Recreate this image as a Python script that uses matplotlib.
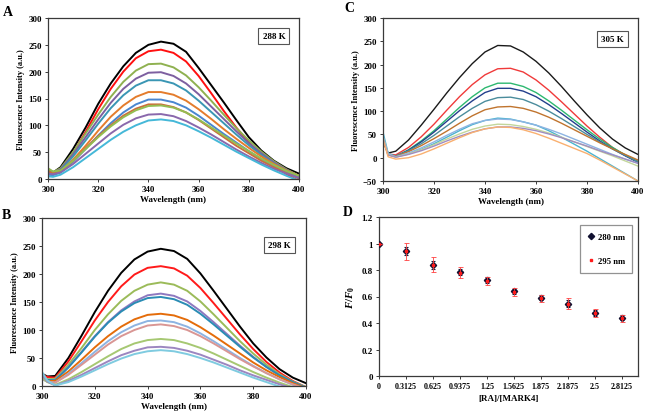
import matplotlib
matplotlib.use("Agg")
import matplotlib.pyplot as plt
from matplotlib.lines import Line2D

plt.rcParams['font.family'] = ['Liberation Serif', 'DejaVu Serif']
plt.rcParams['mathtext.fontset'] = 'custom'
plt.rcParams['mathtext.it'] = 'Liberation Serif:italic:bold'
plt.rcParams['mathtext.rm'] = 'Liberation Serif:bold'

# ---------------- data ----------------
wavelength = [300, 302, 305, 310, 315, 320, 325, 330, 335, 340, 345, 350,
              355, 360, 365, 370, 375, 380, 385, 390, 395, 400]

# Panel A (288 K)
a_black  = [17, 12, 22, 56, 96, 140, 178, 210, 235, 250, 256, 252, 237, 207, 175, 143, 110, 78, 53, 34, 20, 10]
a_red    = [15, 11, 18, 48, 88, 130, 168, 200, 225, 238, 241, 235, 219, 192, 160, 127, 96, 68, 44, 24, 9, -4]
a_green  = [18, 13, 20, 50, 85, 120, 153, 181, 202, 214, 215, 208, 193, 171, 146, 120, 95, 72, 51, 33, 18, 6]
a_purple = [14, 12, 18, 46, 78, 111, 142, 168, 187, 198, 199, 192, 178, 158, 135, 112, 89, 67, 48, 31, 17, 6]
a_teal   = [12, 10, 16, 42, 72, 103, 132, 156, 174, 184, 184, 178, 165, 146, 125, 104, 83, 63, 45, 29, 16, 5]
a_orange = [10, 9, 14, 36, 62, 90, 116, 137, 153, 162, 162, 157, 146, 130, 112, 93, 75, 58, 42, 28, 16, 6]
a_blue   = [8, 7, 12, 32, 56, 81, 104, 124, 139, 148, 148, 143, 133, 118, 101, 84, 68, 52, 37, 24, 13, 3]
a_brown  = [14, 12, 15, 34, 57, 80, 100, 118, 131, 139, 139, 134, 124, 110, 94, 78, 62, 48, 34, 22, 11, 1]
a_green2 = [20, 14, 16, 34, 56, 78, 98, 115, 128, 136, 137, 133, 124, 111, 96, 81, 66, 52, 38, 26, 15, 6]
a_purple2 = [10, 9, 12, 28, 47, 66, 85, 101, 113, 120, 121, 117, 108, 96, 83, 69, 55, 42, 30, 19, 10, 2]
a_cyan   = [5, 4, 8, 22, 39, 56, 73, 88, 100, 109, 111, 108, 100, 89, 77, 64, 51, 39, 27, 16, 6, -3]

# Panel B (298 K)
b_black  = [22, 17, 18, 50, 90, 132, 170, 202, 226, 240, 245, 241, 227, 201, 170, 138, 106, 76, 51, 30, 15, 5]
b_red    = [20, 16, 15, 44, 80, 117, 150, 178, 199, 211, 214, 210, 197, 175, 148, 120, 92, 66, 43, 24, 9, -2]
b_green  = [18, 12, 13, 38, 68, 100, 128, 152, 170, 181, 185, 181, 170, 151, 128, 104, 80, 58, 38, 21, 8, -2]
b_purple = [15, 10, 11, 34, 61, 89, 114, 135, 151, 162, 165, 161, 151, 134, 114, 93, 72, 52, 34, 19, 7, -3]
b_teal   = [16, 11, 10, 33, 60, 88, 113, 133, 148, 157, 159, 155, 145, 129, 110, 90, 70, 51, 34, 19, 7, -3]
b_orange = [14, 9, 9, 26, 47, 69, 89, 106, 119, 127, 129, 126, 118, 105, 90, 74, 58, 42, 28, 16, 5, -4]
b_ltblue = [12, 8, 6, 22, 41, 61, 80, 96, 108, 116, 117, 114, 106, 94, 80, 65, 50, 36, 23, 12, 2, -6]
b_pink   = [13, 8, 6, 20, 38, 56, 74, 89, 100, 108, 110, 107, 100, 89, 76, 62, 48, 35, 23, 12, 3, -5]
b_ltgreen = [15, 7, 2, 12, 25, 39, 53, 66, 76, 82, 84, 82, 76, 68, 58, 47, 36, 25, 15, 6, -2, -9]
b_purple2 = [20, 8, 1, 9, 20, 32, 44, 55, 63, 69, 70, 68, 63, 56, 47, 38, 28, 19, 11, 3, -4, -10]
b_cyan   = [25, 10, 1, 7, 17, 28, 39, 49, 57, 62, 64, 62, 57, 50, 42, 33, 24, 15, 7, -1, -8, -14]

# Panel C (305 K)
c_black  = [35, 10, 14, 38, 70, 104, 139, 172, 202, 227, 241, 240, 227, 207, 182, 153, 122, 92, 64, 40, 21, 7]
c_red    = [40, 8, 6, 22, 45, 72, 102, 131, 157, 178, 191, 192, 184, 167, 145, 120, 94, 68, 44, 22, 5, -8]
c_green  = [45, 6, 3, 17, 36, 58, 83, 108, 131, 150, 160, 160, 153, 140, 122, 102, 81, 60, 40, 22, 6, -8]
c_navy   = [42, 6, 3, 16, 34, 55, 78, 101, 122, 140, 149, 149, 143, 131, 114, 95, 75, 55, 36, 19, 4, -10]
c_teal   = [40, 7, 4, 15, 30, 48, 68, 88, 106, 121, 129, 130, 125, 114, 100, 84, 67, 50, 34, 19, 5, -9]
c_brown  = [38, 6, 3, 13, 26, 41, 57, 74, 90, 103, 109, 110, 106, 98, 87, 74, 60, 46, 32, 19, 7, -5]
c_cyan   = [55, 10, 2, 8, 18, 30, 44, 58, 71, 80, 85, 83, 77, 70, 58, 44, 29, 14, -2, -18, -34, -50]
c_ltblue = [48, 8, 2, 10, 21, 34, 48, 61, 73, 80, 83, 82, 77, 70, 61, 51, 40, 29, 18, 7, -3, -12]
c_ltgreen = [45, 7, 1, 8, 17, 28, 40, 51, 61, 68, 72, 71, 67, 61, 53, 44, 34, 24, 14, 4, -7, -18]
c_purple = [42, 6, 1, 7, 15, 25, 36, 46, 55, 62, 66, 66, 63, 58, 51, 43, 34, 25, 15, 6, -3, -12]
c_orange = [40, 2, -3, 0, 8, 19, 31, 43, 54, 62, 66, 65, 60, 52, 42, 31, 20, 9, -5, -20, -35, -50]

# Panel D
ratio = [0, 0.3125, 0.625, 0.9375, 1.25, 1.5625, 1.875, 2.1875, 2.5, 2.8125]
ratio_labels = ["0", "0.3125", "0.625", "0.9375", "1.25", "1.5625", "1.875", "2.1875", "2.5", "2.8125"]
f280 = [1.0, 0.945, 0.84, 0.785, 0.725, 0.64, 0.59, 0.545, 0.475, 0.44]
f280_err = [0, 0.03, 0.03, 0.02, 0.02, 0.02, 0.02, 0.025, 0.02, 0.02]
f295 = [1.0, 0.94, 0.84, 0.78, 0.72, 0.635, 0.585, 0.545, 0.475, 0.435]
f295_err = [0, 0.065, 0.055, 0.04, 0.03, 0.03, 0.03, 0.04, 0.03, 0.025]

# ---------------- figure ----------------
W, H = 647, 414
fig = plt.figure(figsize=(W / 100, H / 100), dpi=100)


def px_axes(l, t, r, b):
    return fig.add_axes([l / W, 1 - b / H, (r - l) / W, (b - t) / H])


SPINE = '#3a3a3a'
TFS = 6.4


def style(ax):
    for s in ax.spines.values():
        s.set_color(SPINE)
        s.set_linewidth(0.9)
    ax.tick_params(direction='out', length=2.5, width=0.7, color=SPINE,
                   labelsize=TFS, pad=2)
    for lab in ax.get_xticklabels() + ax.get_yticklabels():
        lab.set_fontweight('bold')


def spectrum_panel(ax, series, colors, lw, ylim, yticks, tag, tagpos):
    for ys, c in zip(series, colors):
        ax.plot(wavelength, ys, color=c, lw=lw, solid_capstyle='round',
                solid_joinstyle='round')
    ax.set_xlim(300, 400)
    ax.set_ylim(*ylim)
    ax.set_xticks(range(300, 401, 20))
    ax.set_yticks(yticks)
    style(ax)
    ax.set_xlabel('Wavelength (nm)', fontsize=6.5, fontweight='bold', labelpad=1)
    ax.set_ylabel('Fluorescence Intensity (a.u.)', fontsize=6.0, fontweight='bold', labelpad=2)
    ax.text(tagpos[0], tagpos[1], tag, transform=ax.transAxes, fontsize=6.5,
            fontweight='bold', ha='center', va='center',
            bbox=dict(boxstyle='square,pad=0.45', fc='white', ec='#555555', lw=0.8))


# Panel A
axA = px_axes(48, 19, 299, 180)
spectrum_panel(axA,
               [a_black, a_red, a_green, a_purple, a_teal, a_orange, a_blue,
                a_brown, a_green2, a_purple2, a_cyan],
               ['#000000', '#ff1010', '#8fb150', '#7d5fa0', '#3a96b4', '#e47c2c',
                '#4a86d0', '#cc6e3a', '#94bd52', '#8a68ac', '#45b8d8'],
               1.4, (0, 300), range(0, 301, 50), '288 K', (0.9, 0.89))

# Panel C
axC = px_axes(383, 19, 638, 182)
spectrum_panel(axC,
               [c_black, c_red, c_green, c_navy, c_teal, c_brown, c_cyan,
                c_ltblue, c_ltgreen, c_purple, c_orange],
               ['#1a1a1a', '#f03a3a', '#2db870', '#233f8c', '#4a8c9c', '#c0742e',
                '#4bb4d0', '#8db4e2', '#c3d69b', '#a08cc0', '#f9b070'],
               1.0, (-50, 300), range(-50, 301, 50), '305 K', (0.9, 0.87))

# Panel B
axB = px_axes(42, 219, 306, 387)
spectrum_panel(axB,
               [b_black, b_red, b_green, b_purple, b_teal, b_orange, b_ltblue,
                b_pink, b_ltgreen, b_purple2, b_cyan],
               ['#000000', '#ff1a1a', '#9bbb59', '#8e78bf', '#2a8cb4', '#e46c0a',
                '#8db4e2', '#d99694', '#a6c872', '#9c86c0', '#7fcbe0'],
               1.4, (0, 300), range(0, 301, 50), '298 K', (0.9, 0.84))

# Panel D
axD = px_axes(379, 218, 638, 377)
axD.errorbar(ratio, f280, yerr=f280_err, fmt='D', color='#101030', ms=3.2,
             ecolor='#202040', elinewidth=0.8, capsize=1.5, capthick=0.8, zorder=3)
axD.errorbar(ratio, f295, yerr=f295_err, fmt='s', color='#ff1a1a', ms=1.8,
             ecolor='#ff4040', elinewidth=0.6, capsize=1.8, capthick=0.6,
             linestyle='none', zorder=4)
axD.set_xlim(0, 3)
axD.set_ylim(0, 1.2)
axD.set_xticks(ratio)
axD.set_xticklabels(ratio_labels)
axD.set_yticks([0, 0.2, 0.4, 0.6, 0.8, 1.0, 1.2])
axD.set_yticklabels(['0', '0.2', '0.4', '0.6', '0.8', '1', '1.2'])
style(axD)
axD.tick_params(axis='x', labelsize=5.8)
axD.set_xlabel('[RA]/[MARK4]', fontsize=6.5, fontweight='bold', labelpad=3)
axD.set_ylabel(r'$F/F_0$', fontsize=8, labelpad=3)
handles = [Line2D([], [], marker='D', color='#101030', ms=3.2, ls='none'),
           Line2D([], [], marker='s', color='#ff1a1a', ms=1.8, ls='none')]
leg = axD.legend(handles, ['280 nm', '295 nm'], loc='upper right',
                 bbox_to_anchor=(0.995, 0.975), frameon=True,
                 fancybox=False, edgecolor='#777777', handlelength=0.8,
                 handletextpad=0.3, labelspacing=1.9, borderpad=0.9,
                 prop={'weight': 'bold', 'size': 6.2})
leg.get_frame().set_linewidth(0.9)

# panel letters
for letter, (x, y) in {'A': (8, 12), 'C': (349, 8), 'B': (6, 216), 'D': (348, 212)}.items():
    fig.text(x / W, 1 - y / H, letter, fontsize=10, fontweight='bold',
             ha='center', va='center')

fig.savefig('out.png', dpi=100)
